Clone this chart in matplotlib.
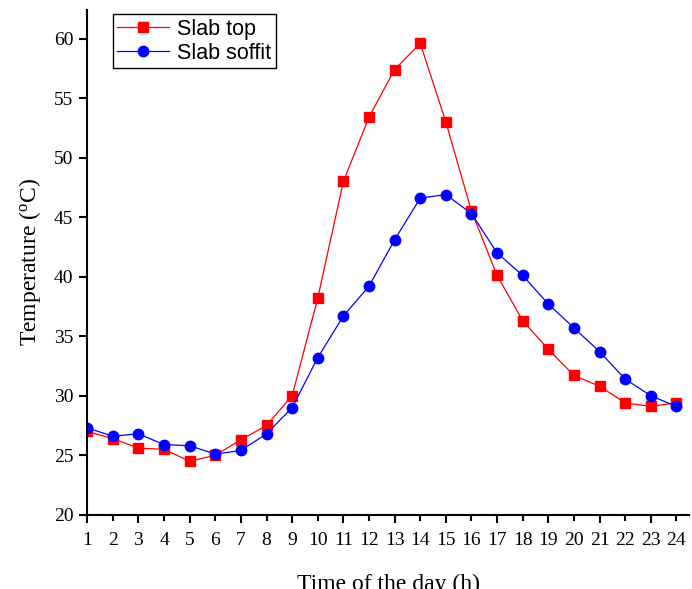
import matplotlib
matplotlib.use("Agg")
import matplotlib.pyplot as plt
from matplotlib.ticker import MultipleLocator, FixedLocator

hours = list(range(1, 25))
slab_top = [27.0, 26.4, 25.6, 25.5, 24.5, 25.0, 26.3, 27.5, 30.0, 38.2, 48.0, 53.4,
            57.4, 59.6, 53.0, 45.5, 40.1, 36.3, 33.9, 31.7, 30.8, 29.4, 29.1, 29.4]
slab_soffit = [27.3, 26.6, 26.8, 25.9, 25.8, 25.1, 25.4, 26.8, 29.0, 33.2, 36.7, 39.2,
               43.1, 46.6, 46.9, 45.3, 42.0, 40.1, 37.7, 35.7, 33.7, 31.4, 30.0, 29.1]

serif = "Liberation Serif"
sans = "Liberation Sans"

fig = plt.figure(figsize=(6.92, 5.89), dpi=100)
ax = fig.add_axes([0.126, 0.126, 0.87, 0.857])

ax.plot(hours, slab_top, color="red", marker="s", markersize=6.5, linewidth=0.9, label="Slab top")
ax.plot(hours, slab_soffit, color="blue", marker="o", markersize=7.5, linewidth=0.9, label="Slab soffit")

ax.set_xlim(1, 24.5)
ax.set_ylim(20, 62.4)
ax.xaxis.set_major_locator(FixedLocator(range(1, 25, 2)))
ax.xaxis.set_minor_locator(FixedLocator(range(2, 25, 2)))
ax.yaxis.set_major_locator(MultipleLocator(5))

for s in ["top", "right"]:
    ax.spines[s].set_visible(False)
for s in ["left", "bottom"]:
    ax.spines[s].set_linewidth(1.5)

ax.tick_params(axis="both", which="major", direction="out", length=6, width=1.5, labelsize=14, pad=4)
ax.tick_params(axis="x", which="major", pad=6.5)
ax.tick_params(axis="x", which="minor", direction="out", length=4, width=1.5, labelsize=14, pad=8.5)
ax.xaxis.set_minor_formatter(plt.FuncFormatter(lambda v, p: "%d" % v))
for lab in ax.get_xticklabels(which="both") + ax.get_yticklabels():
    lab.set_fontfamily(serif)

ax.set_xlabel("Time of the day (h)", fontfamily=serif, fontsize=17, labelpad=18)
ax.set_ylabel("Temperature ($\\mathregular{^o}$C)", fontfamily=serif, fontsize=17, labelpad=8)

leg = ax.legend(loc="upper left", bbox_to_anchor=(0.035, 1.0), prop={"family": sans, "size": 15.5},
                fancybox=False, edgecolor="black", framealpha=1, handlelength=2.4,
                borderpad=0.2, labelspacing=0.15, handletextpad=0.4, borderaxespad=0.2)
leg.get_frame().set_linewidth(1.0)

fig.savefig("out.png", dpi=100)
